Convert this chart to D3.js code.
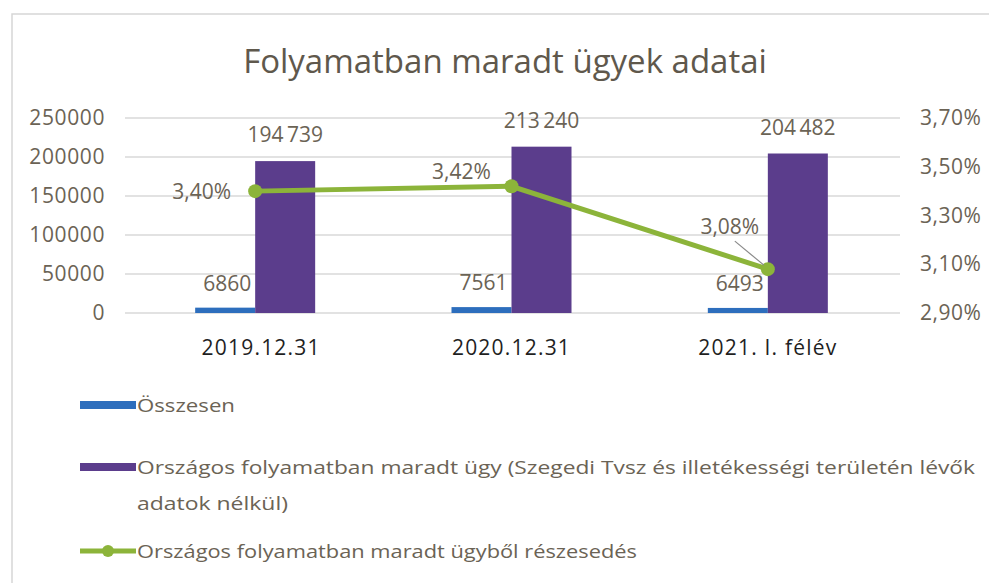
<!DOCTYPE html>
<html>
<head>
<meta charset="utf-8">
<script src="https://cdn.jsdelivr.net/npm/d3@7"></script>
<style>
  body { margin: 0; background: #fff; }
  text { font-family: "Open Sans", "DejaVu Sans", sans-serif; }
</style>
</head>
<body>
<div id="vis"></div>
<script>
// chart data
const categories = ['2019.12.31', '2020.12.31', '2021. I. félév'];
const osszesen = [6860, 7561, 6493];
const orszagos = [194739, 213240, 204482];
const reszesedes = [3.40, 3.42, 3.08];
const leftTicks = [0, 50000, 100000, 150000, 200000, 250000];
const rightTicks = [2.90, 3.10, 3.30, 3.50, 3.70];
const seriesNames = [
  'Összesen',
  'Országos folyamatban maradt ügy (Szegedi Tvsz és illetékességi területén lévők',
  'adatok nélkül)',
  'Országos folyamatban maradt ügyből részesedés'
];

let W = 989, H = 583;
let margin = { top: 118, left: 127, right: 93, bottom: 270 };
let plotW = W - margin.left - margin.right,
    plotH = H - margin.top - margin.bottom;

const blue = '#2d6ebd', purple = '#5b3d8c', green = '#8cb43a';
const tickColor = '#6b6355';

let svg = d3.select('#vis').append('svg')
  .attr('width', W).attr('height', H)
  .style('background-color', 'white');

// outer frame
svg.append('rect')
  .attr('x', 12).attr('y', 14).attr('width', 1000).attr('height', 600)
  .attr('fill', 'none').attr('stroke', '#d6d6d6').attr('stroke-width', 1.5);

svg.append('text')
  .attr('x', 505).attr('y', 73)
  .attr('text-anchor', 'middle')
  .attr('font-size', 33)
  .attr('fill', '#5f584c')
  .text('Folyamatban maradt ügyek adatai');

let g = svg.append('g').attr('transform', `translate(${margin.left},${margin.top})`);

let x0 = d3.scaleBand().domain(categories).range([0, plotW]);
let x1 = d3.scaleBand().domain(['a', 'b']).range([x0.bandwidth() / 2 - 60, x0.bandwidth() / 2 + 60]);
let y = d3.scaleLinear().domain([0, 250000]).range([plotH, 0]);
let yR = d3.scaleLinear().domain([2.90, 3.70]).range([plotH, 0]);

// gridlines
g.append('g')
  .selectAll('line').data(leftTicks).join('line')
  .attr('x1', -2).attr('x2', plotW + 4)
  .attr('y1', d => y(d)).attr('y2', d => y(d))
  .attr('stroke', '#d9d9d9').attr('stroke-width', 1.5);

// left axis
let leftAxis = g.append('g')
  .call(d3.axisLeft(y).tickValues(leftTicks).tickSize(0).tickPadding(22).tickFormat(d3.format('d')));
leftAxis.select('.domain').remove();
leftAxis.selectAll('text').attr('font-size', 21).attr('fill', tickColor).attr('letter-spacing', 0.6);

// right axis
const pct = d => d.toFixed(2).replace('.', ',') + '%';
let rightAxis = g.append('g').attr('transform', `translate(${plotW},0)`)
  .call(d3.axisRight(yR).tickValues(rightTicks).tickSize(0).tickPadding(24).tickFormat(pct));
rightAxis.select('.domain').remove();
rightAxis.selectAll('text').attr('font-size', 21).attr('fill', tickColor).attr('letter-spacing', 0.5);

// category axis
let bottomAxis = g.append('g').attr('transform', `translate(0,${plotH})`)
  .call(d3.axisBottom(x0).tickSize(0).tickPadding(27));
bottomAxis.select('.domain').remove();
bottomAxis.selectAll('text').attr('font-size', 21).attr('fill', '#1f1f1f')
  .attr('letter-spacing', 1.2)
  .attr('dx', (d, i) => i === 0 ? 6 : 0);

// bars
const spaced = d3.formatLocale({ decimal: ',', thousands: '\u2009', grouping: [3], currency: ['', ''] }).format(',d');

let groups = g.selectAll('.grp').data(categories).join('g')
  .attr('class', 'grp')
  .attr('transform', d => `translate(${x0(d)},0)`);

groups.append('rect')
  .attr('x', x1('a')).attr('width', x1.bandwidth())
  .attr('y', (d, i) => y(osszesen[i]))
  .attr('height', (d, i) => plotH - y(osszesen[i]))
  .attr('fill', blue);

groups.append('rect')
  .attr('x', x1('b')).attr('width', x1.bandwidth())
  .attr('y', (d, i) => y(orszagos[i]))
  .attr('height', (d, i) => plotH - y(orszagos[i]))
  .attr('fill', purple);

groups.append('text')
  .attr('x', x1('b') + x1.bandwidth() / 2)
  .attr('y', (d, i) => y(orszagos[i]) - 19)
  .attr('text-anchor', 'middle').attr('font-size', 21).attr('fill', tickColor)
  .text((d, i) => spaced(orszagos[i]));

groups.append('text')
  .attr('x', x1('a') + x1.bandwidth() / 2 + 2)
  .attr('y', (d, i) => y(osszesen[i]) - 17)
  .attr('text-anchor', 'middle').attr('font-size', 21).attr('fill', tickColor)
  .text((d, i) => osszesen[i]);

// line series
let cx = d => x0(d) + x0.bandwidth() / 2;
let line = d3.line().x((d, i) => cx(categories[i])).y(d => yR(d));

g.append('path').datum(reszesedes)
  .attr('d', line).attr('fill', 'none')
  .attr('stroke', green).attr('stroke-width', 5);

g.selectAll('.dot').data(reszesedes).join('circle')
  .attr('cx', (d, i) => cx(categories[i])).attr('cy', d => yR(d))
  .attr('r', 7).attr('fill', green);

// line labels (offset from their point)
const lblDx = [-24, -50, -38], lblDy = [8, -7, -35];
const lblAnchor = ['end', 'middle', 'middle'];
g.selectAll('.pl').data(reszesedes).join('text')
  .attr('x', (d, i) => cx(categories[i]) + lblDx[i])
  .attr('y', (d, i) => yR(d) + lblDy[i])
  .attr('text-anchor', (d, i) => lblAnchor[i])
  .attr('font-size', 21).attr('fill', tickColor)
  .text(d => pct(d));

// leader line for the last label
g.append('line')
  .attr('x1', cx(categories[2]) - 33).attr('y1', yR(reszesedes[2]) - 28)
  .attr('x2', cx(categories[2]) - 4).attr('y2', yR(reszesedes[2]) - 4)
  .attr('stroke', '#8a8a8a').attr('stroke-width', 1.2);

// legend
let lg = svg.append('g').attr('font-size', 18).attr('fill', tickColor);
lg.append('rect').attr('x', 80).attr('y', 401).attr('width', 56).attr('height', 8).attr('fill', blue);
lg.append('text').attr('x', 137).attr('y', 412).attr('textLength', 98).attr('lengthAdjust', 'spacingAndGlyphs').text(seriesNames[0]);

lg.append('rect').attr('x', 80).attr('y', 463).attr('width', 56).attr('height', 8).attr('fill', purple);
lg.append('text').attr('x', 137).attr('y', 474).attr('textLength', 838).attr('lengthAdjust', 'spacingAndGlyphs').text(seriesNames[1]);
lg.append('text').attr('x', 137).attr('y', 510).attr('textLength', 151).attr('lengthAdjust', 'spacingAndGlyphs').text(seriesNames[2]);

lg.append('line').attr('x1', 80).attr('x2', 136).attr('y1', 551).attr('y2', 551)
  .attr('stroke', green).attr('stroke-width', 5);
lg.append('circle').attr('cx', 108).attr('cy', 551).attr('r', 6).attr('fill', green);
lg.append('text').attr('x', 137).attr('y', 558).attr('textLength', 500).attr('lengthAdjust', 'spacingAndGlyphs').text(seriesNames[3]);
</script>
</body>
</html>
